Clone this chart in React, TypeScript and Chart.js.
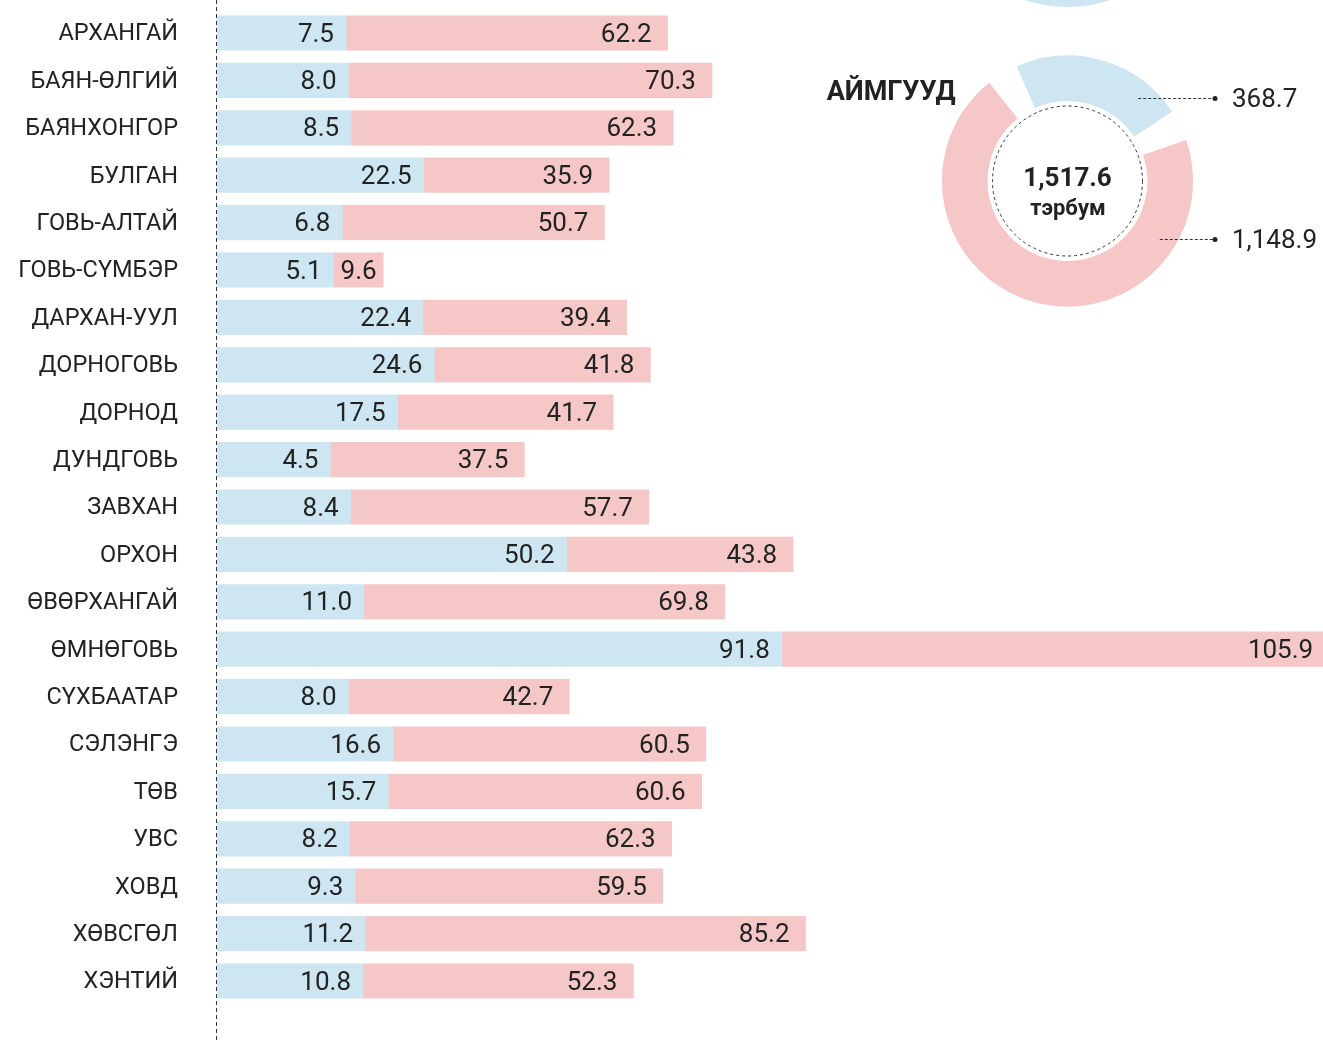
import { useEffect, useRef } from 'react';
import { Chart, registerables } from 'chart.js';

Chart.register(...registerables);

const CATEGORIES = [
  'АРХАНГАЙ', 'БАЯН-ӨЛГИЙ', 'БАЯНХОНГОР', 'БУЛГАН', 'ГОВЬ-АЛТАЙ', 'ГОВЬ-СҮМБЭР',
  'ДАРХАН-УУЛ', 'ДОРНОГОВЬ', 'ДОРНОД', 'ДУНДГОВЬ', 'ЗАВХАН', 'ОРХОН',
  'ӨВӨРХАНГАЙ', 'ӨМНӨГОВЬ', 'СҮХБААТАР', 'СЭЛЭНГЭ', 'ТӨВ', 'УВС', 'ХОВД',
  'ХӨВСГӨЛ', 'ХЭНТИЙ',
];
const BLUE_VALUES = [7.5, 8.0, 8.5, 22.5, 6.8, 5.1, 22.4, 24.6, 17.5, 4.5, 8.4, 50.2, 11.0, 91.8, 8.0, 16.6, 15.7, 8.2, 9.3, 11.2, 10.8];
const PINK_VALUES = [62.2, 70.3, 62.3, 35.9, 50.7, 9.6, 39.4, 41.8, 41.7, 37.5, 57.7, 43.8, 69.8, 105.9, 42.7, 60.5, 60.6, 62.3, 59.5, 85.2, 52.3];

const X_MIN = -17.45;
const X_MAX = 196.5;

const DONUT_VALUES = [368.7, 1148.9];
const DONUT_TITLE = 'АЙМГУУД';
const DONUT_UNIT = 'тэрбум';

const BLUE = '#cde6f1';
const PINK = '#f5c7c7';
const TEXT = '#222222';
const FONT = 'Roboto';

const fmt = (v: number) =>
  v.toLocaleString('en-US', { minimumFractionDigits: 1, maximumFractionDigits: 1 });

export default function App() {
  const barRef = useRef<HTMLCanvasElement>(null);
  const donutRef = useRef<HTMLCanvasElement>(null);

  useEffect(() => {
    document.body.style.margin = '0';

    const guide = {
      id: 'guide',
      beforeDatasetsDraw(chart: any) {
        const ctx = chart.ctx;
        ctx.save();
        ctx.strokeStyle = '#333';
        ctx.lineWidth = 1;
        ctx.setLineDash([4, 3]);
        const x = Math.round(chart.chartArea.left) - 0.5;
        ctx.beginPath();
        ctx.moveTo(x, 0);
        ctx.lineTo(x, chart.height);
        ctx.stroke();
        ctx.restore();
      },
    };

    const barLabels = {
      id: 'barLabels',
      afterDatasetsDraw(chart: any) {
        const ctx = chart.ctx;
        ctx.save();
        ctx.font = `26px ${FONT}`;
        ctx.fillStyle = TEXT;
        ctx.textAlign = 'right';
        ctx.textBaseline = 'middle';
        chart.data.datasets.forEach((_ds: any, di: number) => {
          const meta = chart.getDatasetMeta(di);
          const vals = di === 0 ? BLUE_VALUES : PINK_VALUES;
          const pad = di === 0 ? 12 : 16;
          meta.data.forEach((el: any, i: number) => {
            const t = fmt(vals[i]);
            const w = ctx.measureText(t).width;
            const left = Math.min(el.x, el.base);
            const right = Math.max(el.x, el.base);
            const x = Math.max(right - pad, left + w + 7);
            ctx.fillText(t, x, el.y + 2);
          });
        });
        ctx.restore();
      },
    };

    const bar = new Chart(barRef.current as HTMLCanvasElement, {
      type: 'bar',
      data: {
        labels: CATEGORIES,
        datasets: [
          {
            data: BLUE_VALUES,
            base: X_MIN,
            backgroundColor: BLUE,
            barThickness: 34.5,
            grouped: false,
          } as any,
          {
            data: PINK_VALUES.map((p, i) => [BLUE_VALUES[i], BLUE_VALUES[i] + p]),
            backgroundColor: PINK,
            barThickness: 34.5,
            grouped: false,
          } as any,
        ],
      },
      options: {
        indexAxis: 'y',
        animation: false,
        responsive: false,
        maintainAspectRatio: false,
        layout: { padding: { top: 9.3, bottom: 35.3, left: 0, right: 0 } },
        plugins: { legend: { display: false }, tooltip: { enabled: false } },
        scales: {
          x: { display: false, min: X_MIN, max: X_MAX },
          y: {
            grid: { display: false, drawTicks: false },
            border: { display: false },
            ticks: { font: { family: FONT, size: 23.5 }, color: TEXT, padding: 39, labelOffset: 1.5 },
            afterFit(s: any) {
              s.width = 217;
              s.paddingTop = 0;
              s.paddingBottom = 0;
            },
          } as any,
        },
      },
      plugins: [guide, barLabels],
    });

    const donutDeco = {
      id: 'donutDeco',
      beforeDatasetsDraw(chart: any) {
        const arc = chart.getDatasetMeta(0).data[0];
        const cx = arc.x;
        const cy = arc.y;
        const ctx = chart.ctx;
        ctx.save();
        // fragment of the ring above (cropped by the picture)
        ctx.fillStyle = BLUE;
        ctx.beginPath();
        ctx.arc(cx, cy - 309, 135, 0, Math.PI * 2);
        ctx.fill();
        ctx.restore();
      },
      afterDatasetsDraw(chart: any) {
        const arc = chart.getDatasetMeta(0).data[0];
        const cx = arc.x;
        const cy = arc.y;
        const ctx = chart.ctx;
        ctx.save();
        // dashed inner circle
        ctx.strokeStyle = '#333';
        ctx.lineWidth = 1;
        ctx.setLineDash([3, 3]);
        ctx.beginPath();
        ctx.arc(cx, cy, 75, 0, Math.PI * 2);
        ctx.stroke();

        // centre text
        ctx.setLineDash([]);
        ctx.fillStyle = TEXT;
        ctx.textAlign = 'center';
        ctx.textBaseline = 'alphabetic';
        const total = DONUT_VALUES.reduce((a, b) => a + b, 0);
        ctx.font = `bold 26px ${FONT}`;
        ctx.fillText(fmt(total), cx, cy + 5);
        ctx.font = `bold 22px ${FONT}`;
        ctx.fillText(DONUT_UNIT, cx + 0.5, cy + 34);

        // title
        ctx.textAlign = 'right';
        ctx.font = `bold 27px ${FONT}`;
        ctx.fillText(DONUT_TITLE, cx - 112, cy - 81);

        // leader lines + values
        const rMid = 109;
        const levels = [-83, 58];
        DONUT_VALUES.forEach((v, i) => {
          const dy = levels[i];
          const y = cy + dy + 0.5;
          const x0 = cx + Math.sqrt(rMid * rMid - dy * dy);
          const x1 = cx + 147.5;
          ctx.strokeStyle = '#333';
          ctx.lineWidth = 1;
          ctx.setLineDash([3, 2]);
          ctx.beginPath();
          ctx.moveTo(x0, y);
          ctx.lineTo(x1, y);
          ctx.stroke();
          ctx.setLineDash([]);
          ctx.fillStyle = '#222';
          ctx.beginPath();
          ctx.arc(x1, y, 2.5, 0, Math.PI * 2);
          ctx.fill();
          ctx.textAlign = 'left';
          ctx.textBaseline = 'middle';
          ctx.font = `26px ${FONT}`;
          ctx.fillText(fmt(v), cx + 164.5, y + 2);
        });
        ctx.restore();
      },
    };

    const donut = new Chart(donutRef.current as HTMLCanvasElement, {
      type: 'doughnut',
      data: {
        labels: ['blue', 'pink'],
        datasets: [
          {
            data: DONUT_VALUES,
            backgroundColor: [BLUE, PINK],
            borderWidth: 0,
            spacing: 16,
          } as any,
        ],
      },
      options: {
        animation: false,
        responsive: false,
        maintainAspectRatio: false,
        rotation: -27.5,
        cutout: '61.2%',
        radius: 117.6,
        layout: { padding: { left: 12, top: 32, right: 0, bottom: 0 } },
        plugins: { legend: { display: false }, tooltip: { enabled: false } },
      } as any,
      plugins: [donutDeco],
    });

    return () => {
      bar.destroy();
      donut.destroy();
    };
  }, []);

  return (
    <div style={{ position: 'relative', width: 1323, height: 1040, overflow: 'hidden', background: '#fff' }}>
      <canvas
        ref={barRef}
        width={1323}
        height={1040}
        style={{ position: 'absolute', left: 0, top: 0, display: 'block', width: 1323, height: 1040 }}
      />
      <canvas
        ref={donutRef}
        width={523}
        height={330}
        style={{ position: 'absolute', left: 800, top: 0, display: 'block', width: 523, height: 330 }}
      />
    </div>
  );
}
